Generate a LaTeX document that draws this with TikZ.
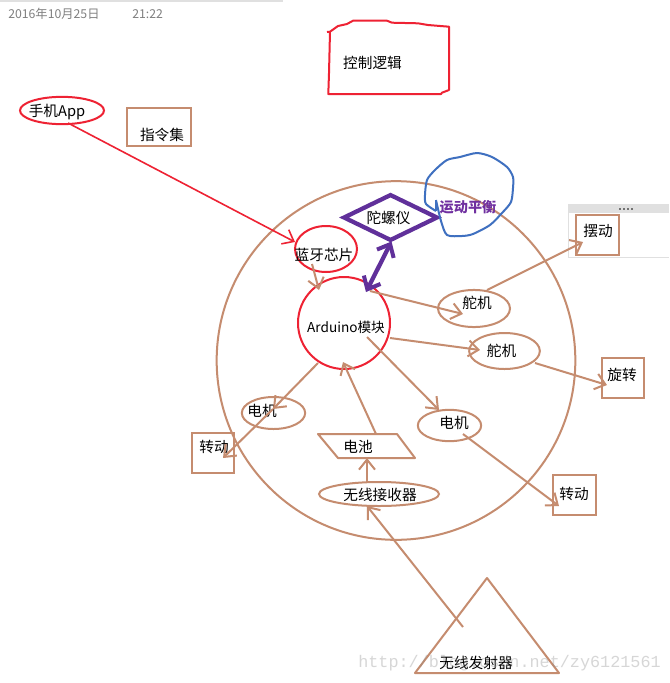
\documentclass[tikz,border=0pt]{standalone}
\usepackage{fontspec}
\setmainfont{Noto Sans CJK SC}
\newfontfamily\wmfont{Liberation Mono}
\usetikzlibrary{shapes.geometric,arrows.meta}
\definecolor{brn}{HTML}{C58C6F}
\definecolor{rd}{HTML}{EE2233}
\definecolor{pur}{HTML}{60309A}
\definecolor{purt}{HTML}{7030A0}
\definecolor{blu}{HTML}{3F70C0}
\definecolor{gbar}{HTML}{E0E0E0}
\tikzset{
  txt/.style={inner sep=0pt,outer sep=0pt,text=black,font=\fontsize{11}{13}\selectfont},
  lineb/.style={draw=brn,line width=1.5pt,inner sep=0pt,outer sep=0pt},
  liner/.style={draw=rd,line width=1.5pt,inner sep=0pt,outer sep=0pt},
  boxn/.style={lineb,rectangle,line width=1.7pt},
  arb/.style={draw=brn,line width=1.5pt,-{Straight Barb[length=7.5pt,width=12pt,line width=1.5pt]}},
  arr/.style={draw=rd,line width=1.2pt,-{Straight Barb[length=7.5pt,width=12pt,line width=1.2pt]}},
  arp/.style={draw=pur,line width=3.2pt,{Straight Barb[length=8pt,width=14pt,line width=3pt]}-{Straight Barb[length=8pt,width=14pt,line width=3pt]}},
  datetxt/.style={inner sep=0pt,text=black!50,font=\fontsize{9.2}{11}\selectfont},
}
\begin{document}
\begin{tikzpicture}[x=0.75pt,y=-0.75pt]
\useasboundingbox (0,0) rectangle (669,683);
\fill[white] (0,0) rectangle (669,683);
% header
\draw[gbar,line width=0.9pt] (0,1) -- (283,1);
\node[datetxt,anchor=west] (date) at (8,14) {2016年10月25日};
\node[datetxt,anchor=west] (time) at (132,14) {21:22};
% window frame
\fill[gbar] (568,204) rectangle (669,213);
\draw[gbar,line width=0.75pt] (568,213) -- (568,257) -- (669,257);
\foreach \x in {620,624,628,632}{\fill[black!55] (\x-1,208) rectangle (\x+1,210);}
% big circle
\node[lineb,circle,minimum size=269pt] (big) at (396,360.5) {};
% control logic
\draw[rd,line width=1.5pt,line join=round] (327,32) -- (330,31.7) -- (338,26) -- (347,24) -- (353,20.7) -- (387,20.7) -- (392,22.7) -- (418,23.3) -- (428,25) -- (449,26.7) -- (449,90) -- (442,92.7) -- (441,94) -- (328.3,94) -- (329,73.3) -- (330,31.7);
\node[txt] (logic) at (372.5,63) {控制逻辑};
% app and instruction set
\node[liner,ellipse,minimum width=63pt,minimum height=20.5pt,
      label={[txt,shift={(-5,2)}]center:手机App}] (app) at (62,110.5) {};
\node[boxn,minimum width=48pt,minimum height=28.5pt,
      label={[txt,shift={(3,8)}]center:指令集}] (ins) at (159,127) {};
% arduino and bluetooth
\node[liner,ellipse,minimum width=46.5pt,minimum height=34.5pt,
      label={[txt,shift={(-2,6)}]center:蓝牙芯片}] (bt) at (326,249) {};
\node[liner,circle,minimum size=69pt,
      label={[txt,shift={(2,4)},font=\fontsize{10.2}{13}\selectfont]center:Arduino模块}] (ard) at (344,323) {};
% gyroscope
\node[draw=pur,line width=3.2pt,diamond,aspect=2,inner sep=0pt,minimum width=71pt,minimum height=35pt,
      label={[txt,shift={(-2,0)}]center:陀螺仪}] (gyro) at (390.5,217.5) {};
% balance blob
\draw[blu,line width=1.5pt,line join=round] plot[smooth,tension=0.45] coordinates {
 (436,200) (441,221) (447,235) (462,236) (473,234) (490,225) (502,213) (511,202) (513,188) (513,177) (507,167) (492,157) (477,153) (460,157) (447,160) (435,170) (427,180) (425,195) (426,204) (436,211)};
\draw[blu,line width=1.5pt] (436,200) -- (436,211);
\node[inner sep=0pt,text=purt,font=\bfseries\fontsize{10.6}{13}\selectfont] (bal) at (468,207) {运动平衡};
% servos, motors
\node[lineb,ellipse,minimum width=54pt,minimum height=27.8pt,
      label={[txt,shift={(3,-5.5)}]center:舵机}] (s1) at (474,308.5) {};
\node[lineb,ellipse,minimum width=53pt,minimum height=27pt,
      label={[txt,shift={(-3,0)}]center:舵机}] (s2) at (504.5,351) {};
\node[lineb,ellipse,minimum width=47.5pt,minimum height=23.5pt,
      label={[txt,shift={(4.5,-2.5)}]center:电机}] (mr) at (449.5,425.5) {};
\node[lineb,ellipse,minimum width=47.5pt,minimum height=24pt,
      label={[txt,shift={(-11.5,-2)}]center:电机}] (ml) at (273.5,413) {};
% output boxes
\node[boxn,minimum width=32pt,minimum height=30pt,
      label={[txt,shift={(0.5,-4)}]center:摆动}] (swing) at (597.5,235) {};
\node[boxn,minimum width=31.5pt,minimum height=30pt,
      label={[txt,shift={(-1,-3)}]center:旋转}] (rot) at (623,378) {};
\node[boxn,minimum width=32pt,minimum height=30pt,
      label={[txt,shift={(-0.5,-1)}]center:转动}] (tr) at (574.5,495) {};
\node[boxn,minimum width=31.5pt,minimum height=30pt,
      label={[txt,shift={(1,-6)}]center:转动}] (tl) at (213,453) {};
% battery, receiver, transmitter
\draw[brn,line width=1.5pt,line join=round] (318,434) -- (397,434) -- (415,458) -- (338,458) -- cycle;
\node[txt] (bat) at (358,447) {电池};
\node[lineb,ellipse,minimum width=90pt,minimum height=18pt,
      label={[txt,shift={(1,1)}]center:无线接收器}] (rec) at (379,494) {};
\draw[brn,line width=1.5pt,line join=round] (487,578) -- (559,673) -- (415,673) -- cycle;
\node[txt] (tx) at (476,663) {无线发射器};
% connectors
\draw[arr] ([shift={(6,12.5)}]app.center) -- ([shift={(-31,-7)}]bt.center);
\draw[arb] ([shift={(-14,15)}]bt.center) -- ([shift={(-25,-33)}]ard.center);
\draw[arp] ([shift={(1,24)}]gyro.center) -- ([shift={(22,-31)}]ard.center);
\draw[arb] ([shift={(26,-32)}]ard.center) -- ([shift={(-11,5.5)}]s1.center);
\draw[arb] ([shift={(13,-18.5)}]s1.center) -- ([shift={(-14.5,7)}]swing.center);
\draw[arb] ([shift={(46,15)}]ard.center) -- ([shift={(-24.5,-1)}]s2.center);
\draw[arb] ([shift={(30.5,12)}]s2.center) -- ([shift={(-16,7)}]rot.center);
\draw[arb] ([shift={(23,14)}]ard.center) -- ([shift={(-10.5,-15.5)}]mr.center);
\draw[arb] ([shift={(13.5,8.5)}]mr.center) -- ([shift={(-15.5,11)}]tr.center);
\draw[arb] ([shift={(-26,40)}]ard.center) -- ([shift={(-0.5,-4)}]ml.center);
\draw[arb] ([shift={(-0.5,-4)}]ml.center) -- ([shift={(10,5)}]tl.center);
\draw[arb] ([shift={(18,-13)}]bat.center) -- ([shift={(-1,39)}]ard.center);
\draw[arb] ([shift={(-12,-12)}]rec.center) -- ([shift={(9,11)}]bat.center);
\draw[arb] ([shift={(-13,-36)}]tx.center) -- ([shift={(-12,12)}]rec.center);
% watermark
\node[inner sep=0pt,anchor=west,text=black!45,opacity=0.35,font=\wmfont\fontsize{12.6}{14}\selectfont] (wm) at (358,663) {http://blog.csdn.net/zy6121561};
\end{tikzpicture}
\end{document}
